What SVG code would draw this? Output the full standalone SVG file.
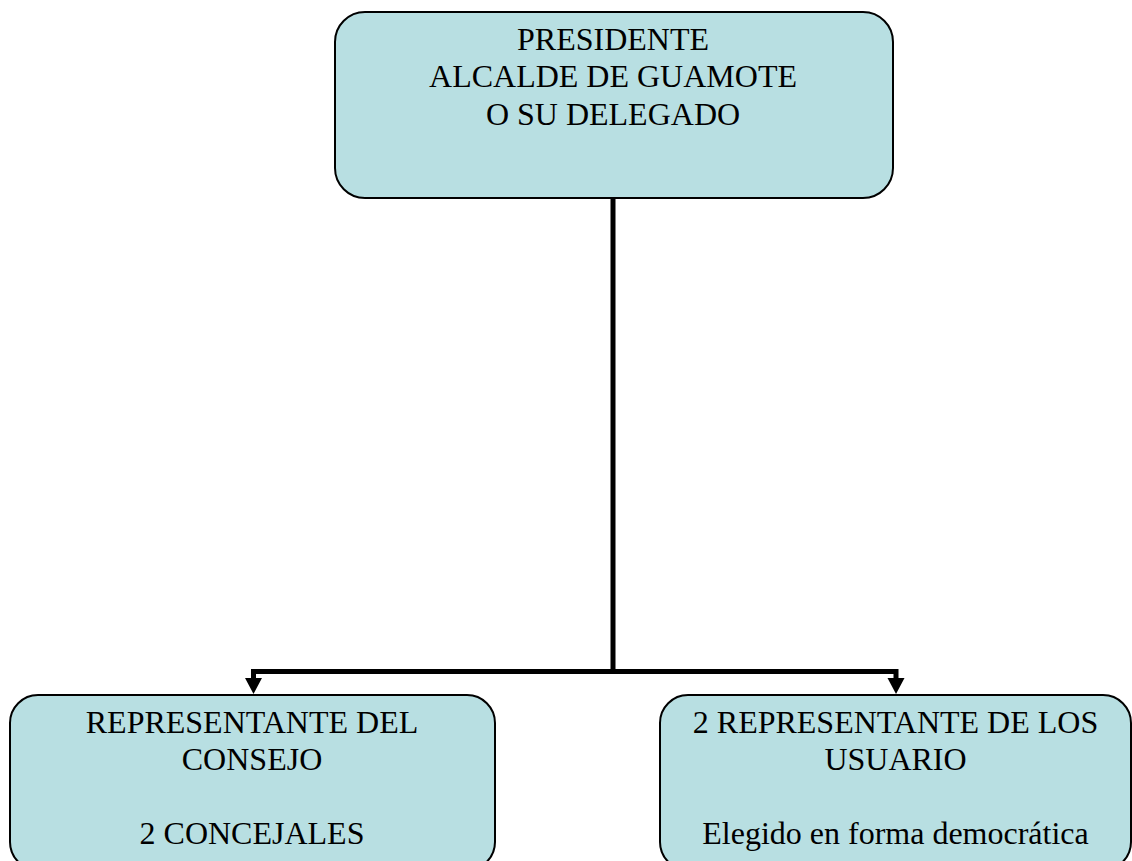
<svg xmlns="http://www.w3.org/2000/svg" width="1132" height="861" viewBox="0 0 1132 861">
<style>
.box{fill:#B8DFE2;stroke:#000;stroke-width:2}
.t{font-family:"Liberation Serif","Times New Roman",serif;font-size:32px;fill:#000;text-anchor:middle}
.c{fill:none;stroke:#000;stroke-width:5}
.ah{fill:#000}
</style>
<rect width="1132" height="861" fill="#fff"/>
<g id="connectors">
<path class="c" d="M613,198 V671.5"/>
<path class="c" d="M615.5,671.5 H253.5 V680"/>
<path class="c" d="M610.5,671.5 H896 V680"/>
<path class="ah" d="M245,678 L262,678 L253.5,694 Z"/>
<path class="ah" d="M887.5,678 L904.5,678 L896,694 Z"/>
</g>
<g id="president">
<rect class="box" x="335" y="12" width="558" height="186" rx="30"/>
<text class="t" x="613" y="50">PRESIDENTE</text>
<text class="t" x="613" y="87">ALCALDE DE GUAMOTE</text>
<text class="t" x="613" y="125">O SU DELEGADO</text>
</g>
<g id="consejo">
<rect class="box" x="10" y="695" width="485" height="175" rx="28"/>
<text class="t" x="252" y="733">REPRESENTANTE DEL</text>
<text class="t" x="252" y="770">CONSEJO</text>
<text class="t" x="252" y="844">2 CONCEJALES</text>
</g>
<g id="usuarios">
<rect class="box" x="660" y="695" width="471" height="175" rx="28"/>
<text class="t" x="895.5" y="733">2 REPRESENTANTE DE LOS</text>
<text class="t" x="895.5" y="770">USUARIO</text>
<text class="t" x="895.5" y="844">Elegido en forma democrática</text>
</g>
</svg>
